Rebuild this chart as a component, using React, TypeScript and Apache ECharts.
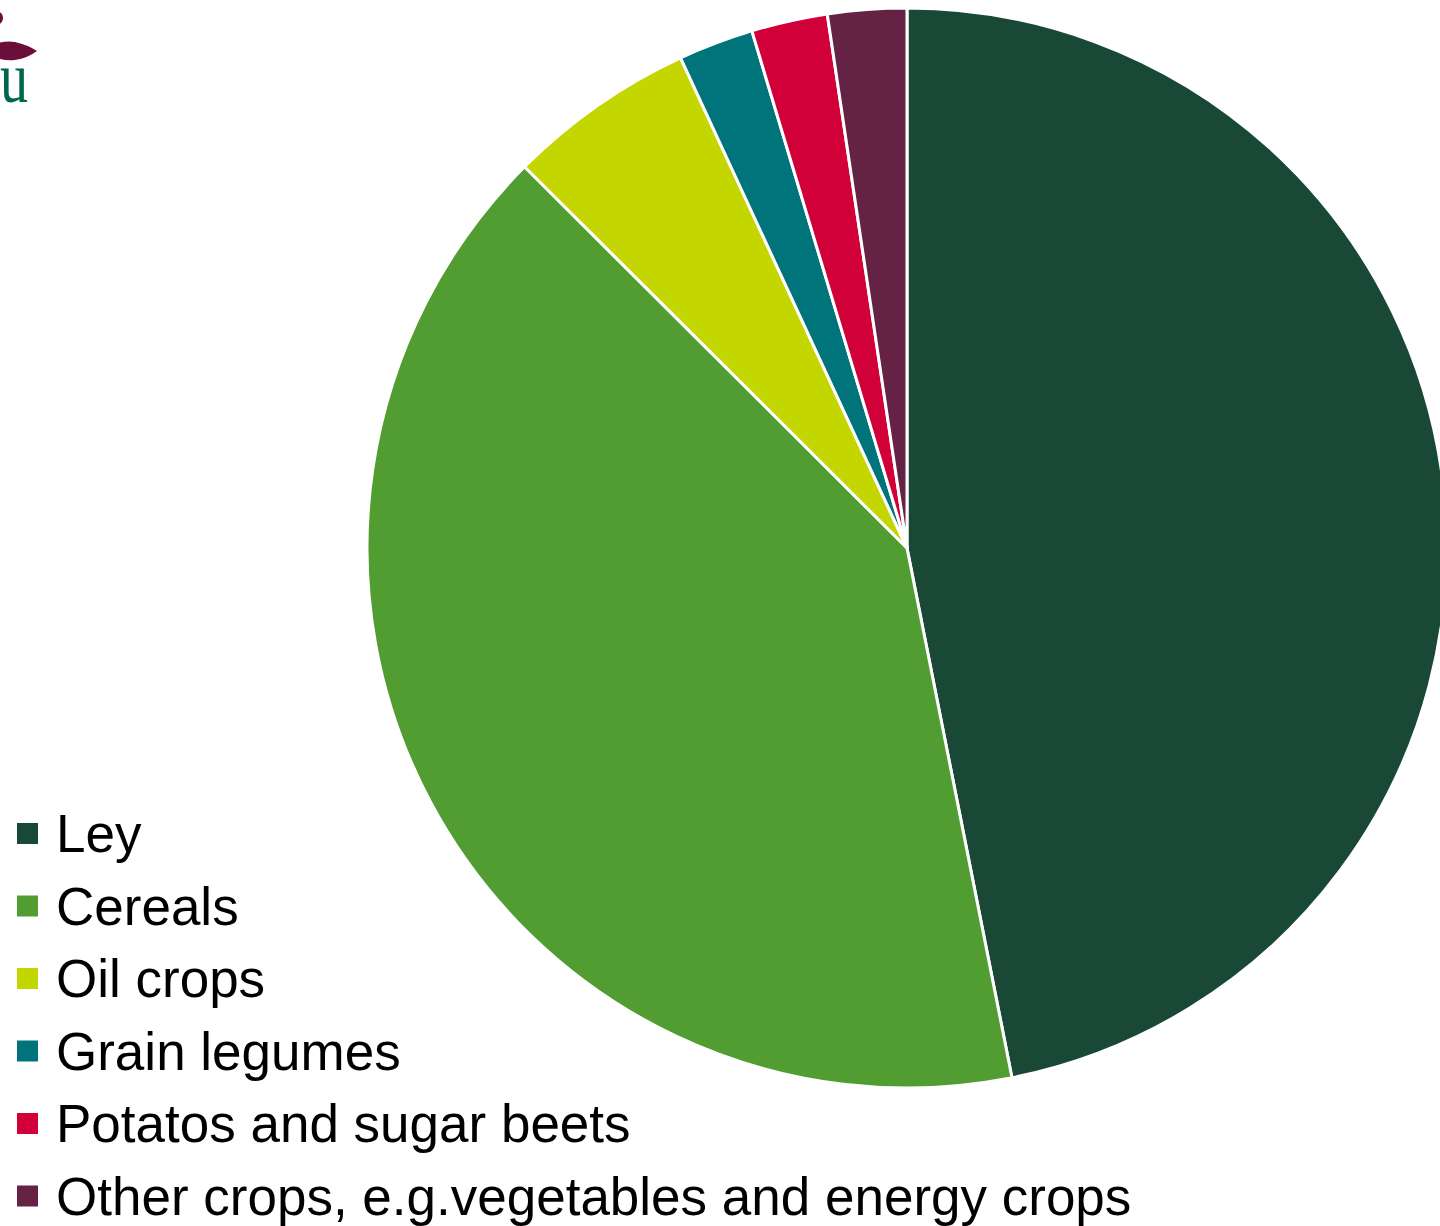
import React, { useEffect, useRef } from "react";
import * as echarts from "echarts";

const categories = [
  "Ley",
  "Cereals",
  "Oil crops",
  "Grain legumes",
  "Potatos and sugar beets",
  "Other crops, e.g.vegetables and energy crops",
];
const shares = [46.9, 40.6, 5.64, 2.25, 2.28, 2.36];
const colors = ["#1a4836", "#519d32", "#c4d600", "#00747a", "#d10038", "#642244"];

echarts.graphic.registerShape(
  "leaf",
  echarts.graphic.extendPath("M -20 51 Q 0 39 15 42 Q 28 45 37 51 Q 28 58 15 60 Q 0 62 -20 51 Z", {})
);

export default function App() {
  const ref = useRef<HTMLDivElement>(null);
  useEffect(() => {
    document.body.style.margin = "0";
    const chart = echarts.init(ref.current!, null, { renderer: "svg" });
    chart.setOption({
      animation: false,
      backgroundColor: "#ffffff",
      color: colors,
      legend: {
        orient: "vertical",
        left: 15,
        top: 807,
        padding: 0,
        height: 419,
        width: 1400,
        icon: "rect",
        itemWidth: 23,
        itemHeight: 23,
        itemGap: 19.5,
        selectedMode: false,
        textStyle: {
          fontFamily: "Liberation Sans, Arial, sans-serif",
          fontSize: 53,
          color: "#000000",
          padding: [0, 0, 0, 12],
        },
        data: categories,
      },
      graphic: [
        { type: "circle", shape: { cx: -4, cy: 18, r: 7 }, style: { fill: "#6b0f3a" } },
        { type: "leaf", x: 0, y: 0, style: { fill: "#6b0f3a" } },
        {
          type: "text",
          x: 0,
          y: 113,
          scaleX: 0.78,
          style: {
            text: "u",
            fontFamily: "Liberation Serif, serif",
            fontSize: 72,
            fill: "#00674e",
            textAlign: "left",
            textVerticalAlign: "bottom",
          },
        },
      ],
      series: [
        {
          type: "pie",
          center: [907, 548],
          radius: [0, 540],
          startAngle: 90,
          clockwise: true,
          label: { show: false },
          labelLine: { show: false },
          emphasis: { disabled: true },
          itemStyle: { borderColor: "#ffffff", borderWidth: 3 },
          data: categories.map((name, i) => ({ name, value: shares[i] })),
        },
      ],
    });
    return () => chart.dispose();
  }, []);
  return <div ref={ref} style={{ position: "absolute", left: 0, top: 0, width: 1440, height: 1226 }} />;
}
